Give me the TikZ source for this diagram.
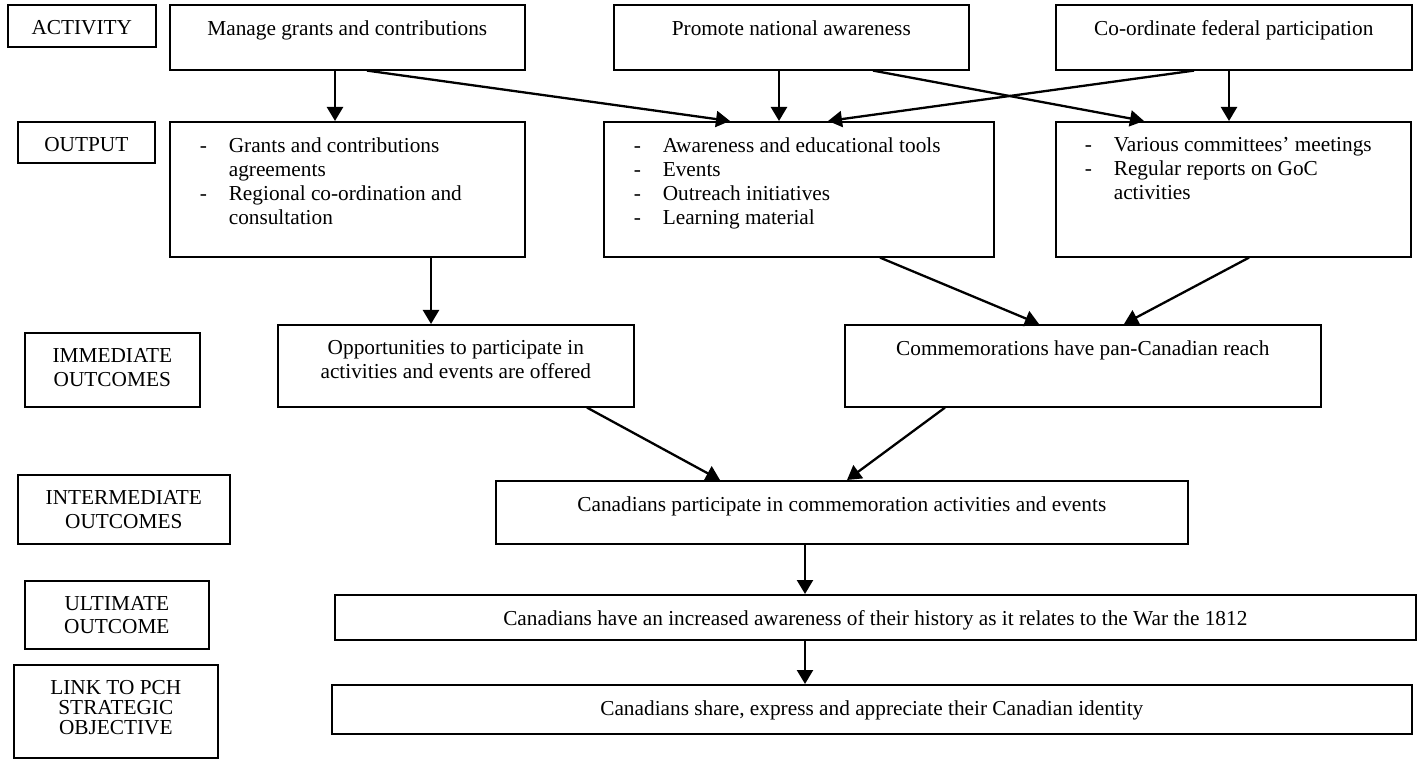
\documentclass[tikz,border=0pt]{standalone}
\usepackage{fontspec}
\setmainfont{Liberation Serif}
\usepackage{tikz}
\usetikzlibrary{
	arrows.meta,
	positioning
}
\newcommand{\cell}[3]{\parbox[t][#2pt][t]{#1pt}{\vspace*{16pt}#3}}
\newcommand{\dashitem}{\leavevmode\llap{\makebox[29pt][l]{-}}}
\tikzset{
	>={Triangle[length=14pt, width=16pt]},
	flow/.style={->, line width=2.3pt},
	levelbox/.style={draw, line width=1.6pt, inner sep=0pt, anchor=north west},
	stepbox/.style={draw, line width=1.6pt, inner sep=0pt, anchor=north west}
}

\begin{document}
\begin{tikzpicture}[x=1pt, y=-1pt, font=\fontsize{21.3}{24}\selectfont]
	\useasboundingbox (0,0) rectangle (1424,759);

	% left column
	\node[levelbox] (activity) at (7,4) {\cell{148}{42}{\centering ACTIVITY}};
	\node[levelbox] (output) at (17,121) {\cell{137}{41}{\centering OUTPUT}};
	\node[levelbox] (immediate) at (24,332) {\cell{175}{74}{\centering IMMEDIATE\\OUTCOMES}};
	\node[levelbox] (intermediate) at (17,474) {\cell{212}{69}{\centering INTERMEDIATE\\OUTCOMES}};
	\node[levelbox] (ultimate) at (24,580) {\cell{184}{68}{\centering\fontsize{21.3}{23}\selectfont ULTIMATE\\OUTCOME}};
	\node[levelbox] (link) at (13,664) {\cell{204}{93}{\centering\fontsize{21.3}{20}\selectfont LINK TO PCH\\STRATEGIC\\OBJECTIVE}};

	% activities
	\node[stepbox] (manage) at (169,4) {\cell{355}{65}{\centering Manage grants and contributions}};
	\node[stepbox] (promote) at (613,4) {\cell{355}{65}{\centering Promote national awareness}};
	\node[stepbox] (coord) at (1055,4) {\cell{356}{65}{\centering Co-ordinate federal participation}};

	% outputs
	\node[stepbox] (grants) at (169,121) {\cell{355}{135}{\raggedright\leftskip=59pt
		\dashitem Grants and contributions\\
		agreements\\
		\dashitem Regional co-ordination and\\
		consultation}};
	\node[stepbox] (tools) at (603,121) {\cell{390}{135}{\raggedright\leftskip=59pt
		\dashitem Awareness and educational tools\\
		\dashitem Events\\
		\dashitem Outreach initiatives\\
		\dashitem Learning material}};
	\node[stepbox] (meetings) at (1055,121) {\cell{355}{135}{\raggedright\leftskip=58pt
		\dashitem Various committees’ meetings\\
		\dashitem Regular reports on GoC\\
		activities}};

	% outcomes
	\node[stepbox] (offered) at (277,324) {\cell{356}{82}{\centering Opportunities to participate in\\activities and events are offered}};
	\node[stepbox] (reach) at (844,324) {\cell{476}{82}{\centering Commemorations have pan-Canadian reach}};
	\node[stepbox] (participate) at (495,480) {\cell{692}{63}{\centering Canadians participate in commemoration activities and events}};
	\node[stepbox] (awareness) at (334,594) {\cell{1081}{45}{\centering Canadians have an increased awareness of their history as it relates to the War the 1812}};
	\node[stepbox] (identity) at (331,684) {\cell{1080}{49}{\centering Canadians share, express and appreciate their Canadian identity}};

	\path[flow]
		([xshift=166pt]manage.south west) edge ([xshift=166pt]grants.north west)
		([xshift=198pt]manage.south west) edge ([xshift=127pt]tools.north west)
		([xshift=166pt]promote.south west) edge ([xshift=176pt]tools.north west)
		([xshift=260pt]promote.south west) edge ([xshift=89pt]meetings.north west)
		([xshift=139pt]coord.south west) edge ([xshift=225pt]tools.north west)
		([xshift=174pt]coord.south west) edge ([xshift=174pt]meetings.north west)
	;

	\path[flow]
		([xshift=262pt]grants.south west) edge ([xshift=154pt]offered.north west)
		([xshift=277pt]tools.south west) edge ([xshift=195pt]reach.north west)
		([xshift=194pt]meetings.south west) edge ([xshift=280pt]reach.north west)
	;

	\path[flow]
		([xshift=310pt]offered.south west) edge ([xshift=225pt]participate.north west)
		([xshift=101pt]reach.south west) edge ([xshift=352pt]participate.north west)
		([xshift=310pt]participate.south west) edge ([xshift=471pt]awareness.north west)
		([xshift=471pt]awareness.south west) edge ([xshift=474pt]identity.north west)
	;
\end{tikzpicture}
\end{document}
